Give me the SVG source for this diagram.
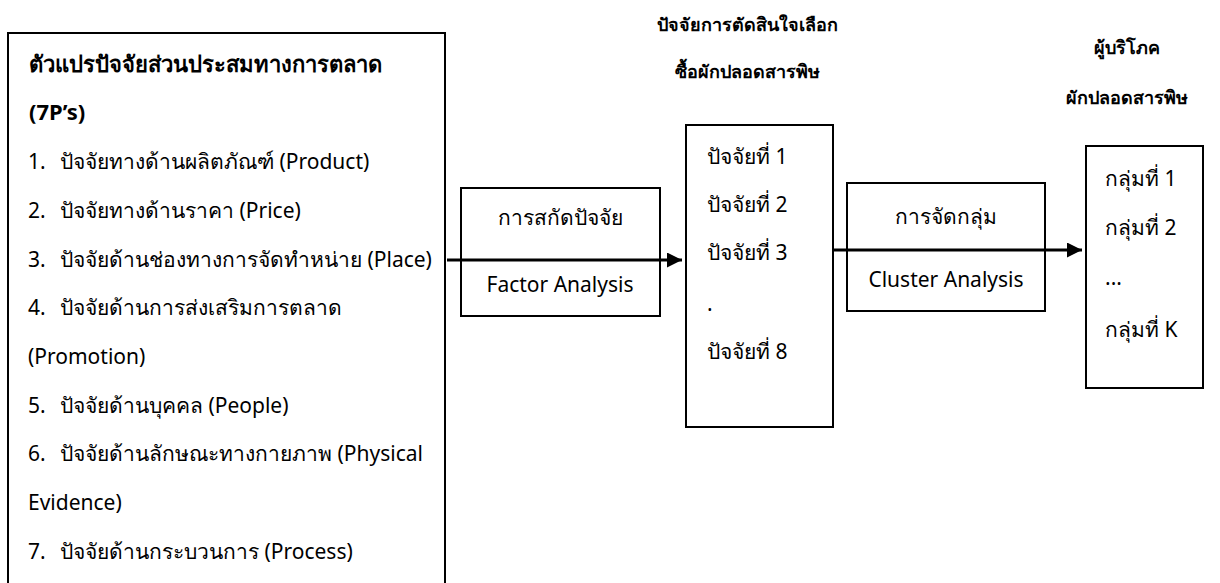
<svg xmlns="http://www.w3.org/2000/svg" width="1220" height="583" viewBox="0 0 1220 583">
<style>
.box{fill:none;stroke:#000;stroke-width:2}
.t{font-family:"Noto Sans","DejaVu Sans",sans-serif;font-size:21px;fill:#000}
.b{font-weight:bold;font-size:22px}
.h{font-weight:bold;font-size:18px}
.c{text-anchor:middle}
.arr{stroke:#000;stroke-width:3;fill:none}
</style>
<defs>
<marker id="ah" markerUnits="userSpaceOnUse" markerWidth="16" markerHeight="16" refX="15" refY="7.5" orient="auto">
<path d="M0,0 L15,7.5 L0,15 Z" fill="#000"/>
</marker>
</defs>
<rect width="1220" height="583" fill="#fff"/>
<g id="mix">
<path class="box" d="M8,583 V33 H445 V583"/>
<text class="t b" x="29" y="72">ตัวแปรปัจจัยส่วนประสมทางการตลาด</text>
<text class="t b" x="29" y="120">(7P’s)</text>
<text class="t" y="169"><tspan x="28">1.</tspan><tspan x="60">ปัจจัยทางด้านผลิตภัณฑ์ (Product)</tspan></text>
<text class="t" y="218"><tspan x="28">2.</tspan><tspan x="60">ปัจจัยทางด้านราคา (Price)</tspan></text>
<text class="t" y="267"><tspan x="28">3.</tspan><tspan x="60">ปัจจัยด้านช่องทางการจัดทำหน่าย (Place)</tspan></text>
<text class="t" y="315"><tspan x="28">4.</tspan><tspan x="60">ปัจจัยด้านการส่งเสริมการตลาด</tspan></text>
<text class="t" x="28" y="364">(Promotion)</text>
<text class="t" y="413"><tspan x="28">5.</tspan><tspan x="60">ปัจจัยด้านบุคคล (People)</tspan></text>
<text class="t" y="461"><tspan x="28">6.</tspan><tspan x="60">ปัจจัยด้านลักษณะทางกายภาพ (Physical</tspan></text>
<text class="t" x="28" y="510">Evidence)</text>
<text class="t" y="559"><tspan x="28">7.</tspan><tspan x="60">ปัจจัยด้านกระบวนการ (Process)</tspan></text>
</g>
<g id="fa">
<rect class="box" x="461" y="188" width="199" height="128"/>
<text class="t c" x="560" y="225">การสกัดปัจจัย</text>
<text class="t c" x="560" y="292">Factor Analysis</text>
</g>
<g id="factors">
<text class="t h c" x="747" y="31">ปัจจัยการตัดสินใจเลือก</text>
<text class="t h c" x="747" y="78">ซื้อผักปลอดสารพิษ</text>
<rect class="box" x="686" y="125" width="147" height="302"/>
<text class="t" x="707" y="164">ปัจจัยที่ 1</text>
<text class="t" x="707" y="212">ปัจจัยที่ 2</text>
<text class="t" x="707" y="260">ปัจจัยที่ 3</text>
<text class="t" x="707" y="311">.</text>
<text class="t" x="707" y="359">ปัจจัยที่ 8</text>
</g>
<g id="ca">
<rect class="box" x="847" y="183" width="198" height="128"/>
<text class="t c" x="946" y="224">การจัดกลุ่ม</text>
<text class="t c" x="946" y="287">Cluster Analysis</text>
</g>
<g id="consumers">
<text class="t h c" x="1127" y="54">ผู้บริโภค</text>
<text class="t h c" x="1127" y="104">ผักปลอดสารพิษ</text>
<rect class="box" x="1086" y="146" width="117" height="242"/>
<text class="t" x="1105" y="186">กลุ่มที่ 1</text>
<text class="t" x="1105" y="235">กลุ่มที่ 2</text>
<text class="t" x="1105" y="285">...</text>
<text class="t" x="1105" y="337">กลุ่มที่ K</text>
</g>
<g id="connectors">
<line class="arr" x1="447" y1="260" x2="682" y2="260" marker-end="url(#ah)"/>
<line class="arr" x1="833" y1="250" x2="1082" y2="250" marker-end="url(#ah)"/>
</g>
</svg>
